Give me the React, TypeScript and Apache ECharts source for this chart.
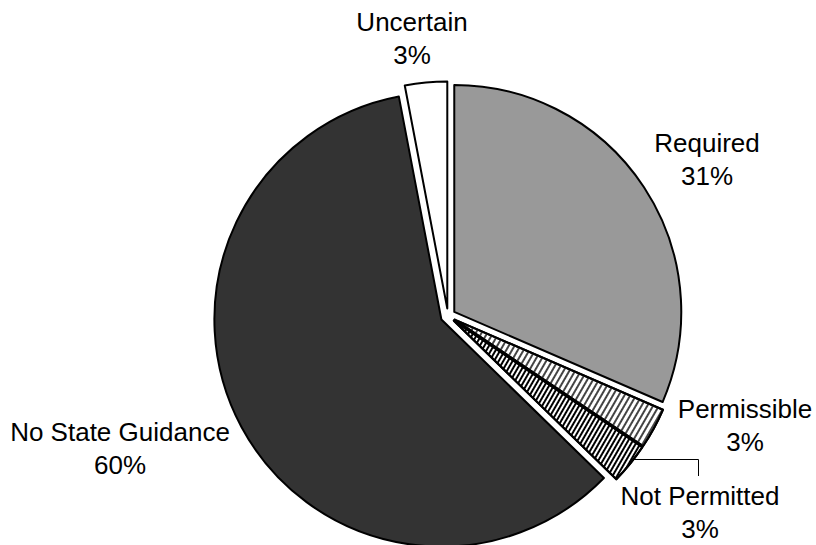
import React, { useEffect, useRef } from "react";
import * as echarts from "echarts";

const categories = ["Required", "Permissible", "Not Permitted", "No State Guidance", "Uncertain"];
const shares = [31.5, 2.9, 2.9, 59.7, 3.0];
const shareLabels = ["31%", "3%", "3%", "60%", "3%"];
const labelCenters: [number, number][] = [
  [707, 159],
  [745, 425],
  [700, 512],
  [120, 448],
  [412, 38],
];
const leaderLine: [number, number][] = [
  [633, 459.5],
  [698.5, 459.5],
  [698.5, 476],
];

export default function App() {
  const ref = useRef<HTMLDivElement>(null);
  useEffect(() => {
    if (!ref.current) return;
    const chart = echarts.init(ref.current, null, { renderer: "svg" });
    const styles: any[] = [
      { color: "#999999" },
      {
        color: "#ffffff",
        decal: {
          symbol: "rect",
          symbolSize: 1,
          dashArrayX: [1, 0],
          dashArrayY: [1.2, 2.8],
          rotation: -Math.PI / 3,
          color: "#444444",
        },
      },
      {
        color: "#ffffff",
        decal: {
          symbol: "rect",
          symbolSize: 1,
          dashArrayX: [1, 0],
          dashArrayY: [2, 2],
          rotation: -Math.PI / 3,
          color: "#000000",
        },
      },
      { color: "#333333" },
      { color: "#ffffff" },
    ];
    const data = categories.map((name, i) => ({
      name,
      value: shares[i],
      selected: true,
      itemStyle: { ...styles[i], borderColor: "#000", borderWidth: 2 },
    }));
    const texts = categories.map((name, i) => ({
      type: "text",
      x: labelCenters[i][0],
      y: labelCenters[i][1],
      silent: true,
      style: {
        text: `${name}\n${shareLabels[i]}`,
        fontSize: 26,
        lineHeight: 33,
        fontFamily: "'Liberation Sans', Arial, sans-serif",
        fill: "#000",
        align: "center",
        verticalAlign: "middle",
      },
    }));
    chart.setOption({
      animation: false,
      backgroundColor: "#ffffff",
      series: [
        {
          type: "pie",
          center: [448, 316],
          radius: 227,
          startAngle: 90,
          clockwise: true,
          selectedMode: "multiple",
          selectedOffset: 7.5,
          emphasis: { disabled: true },
          label: { show: false },
          labelLine: { show: false },
          data,
        },
      ],
      graphic: [
        ...texts,
        {
          type: "polyline",
          silent: true,
          shape: { points: leaderLine },
          style: { stroke: "#000", lineWidth: 1, fill: "none" },
        },
      ],
    });
    return () => chart.dispose();
  }, []);
  return (
    <div
      ref={ref}
      style={{ position: "absolute", left: 0, top: 0, width: 816, height: 545, background: "#fff" }}
    />
  );
}
